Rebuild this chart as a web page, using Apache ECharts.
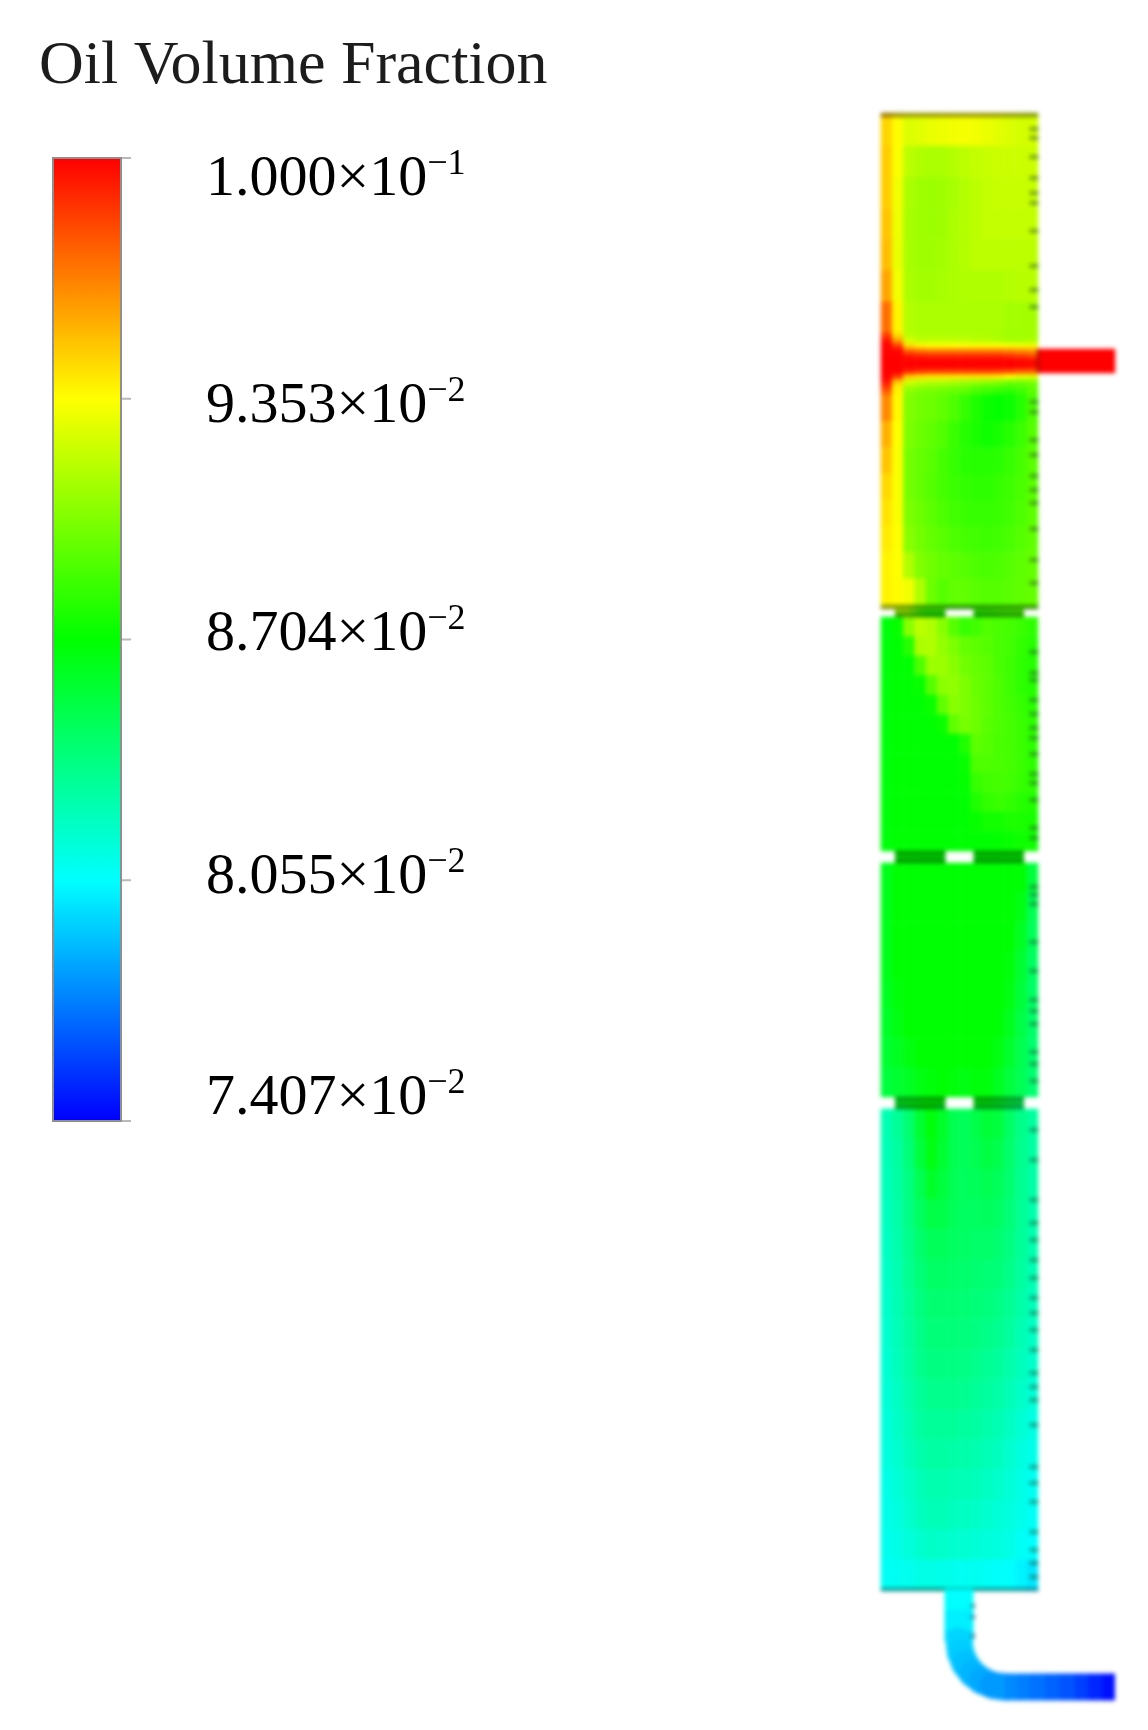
<!DOCTYPE html>
<html><head><meta charset="utf-8">
<style>
html,body{margin:0;padding:0;background:#fff}
#legend,#field{position:absolute;left:0;top:0;width:1148px;height:1730px}
#legend{filter:blur(0.6px)}
#field{filter:blur(2.2px)}
</style>
<script src="https://cdn.jsdelivr.net/npm/echarts@6/dist/echarts.min.js"></script>
</head><body><div id="legend"></div><div id="field"></div>
<script>
// Oil volume fraction, in units of 1e-4.
const legendTitle = 'Oil Volume Fraction';
const legendLabels = ['1.000×10','9.353×10','8.704×10','8.055×10','7.407×10'];
const legendExponents = ['−1','−2','−2','−2','−2'];
const scaleMin = 741, scaleMax = 1000;

const chamber1Upper = [
[946,936,926,928,930,931,932,933,932,930,928,926,924,924],
[948,934,918,915,914,914,916,918,920,921,922,922,922,922],
[948,932,914,911,910,911,913,916,918,920,921,921,921,921],
[950,931,913,911,910,911,914,916,918,920,920,920,920,920],
[952,930,913,911,911,912,914,916,918,918,918,918,918,918],
[958,932,914,912,912,913,914,915,915,915,915,916,917,917],
[972,938,916,914,914,914,914,914,914,914,914,912,912,912]];
const jetZone = [
[985,945,918,915,915,915,915,915,915,915,913,911,911,912],
[995,960,925,920,920,920,920,920,918,918,916,914,914,915],
[1000,985,945,938,935,935,935,935,935,935,935,933,932,932],
[1000,1000,975,970,968,968,968,968,968,968,968,966,964,962],
[1000,1000,995,992,990,990,990,990,990,990,990,988,985,982],
[1000,1000,1000,1000,1000,1000,1000,1000,1000,1000,1000,1000,999,998],
[1000,1000,1000,1000,1000,1000,1000,1000,1000,1000,1000,1000,999,998],
[1000,1000,990,985,983,983,983,983,983,983,982,980,976,975],
[1000,985,950,945,942,942,942,942,942,942,940,935,930,928],
[995,950,925,920,918,917,915,912,910,908,905,900,900,902],
[985,940,912,908,906,904,902,900,895,892,890,888,890,895],
[975,938,905,900,900,898,896,893,888,885,882,880,885,893]];
const chamber1Lower = [
[965,937,903,900,898,895,890,884,878,873,871,873,880,890],
[955,935,902,898,895,891,885,880,877,874,876,880,885,892],
[950,934,900,896,893,888,884,881,880,880,881,884,888,893],
[945,934,900,896,892,888,885,883,882,882,884,886,889,893],
[942,934,902,898,894,890,887,885,884,884,885,887,890,894],
[940,935,905,900,896,893,890,888,887,886,887,889,892,895],
[938,935,915,903,899,896,894,892,890,889,890,892,894,896],
[938,936,932,915,898,892,895,895,893,892,892,893,895,896]];
const chamber2 = [
[868,872,905,918,915,905,892,884,887,891,889,888,885,882],
[868,870,880,914,915,908,902,896,894,892,889,887,883,880],
[868,870,870,890,910,910,905,899,896,894,889,886,882,880],
[868,870,870,872,892,906,907,902,897,894,890,886,882,880],
[868,870,870,870,873,895,905,902,898,894,890,887,884,881],
[868,870,870,870,870,873,895,901,898,893,890,888,885,882],
[868,870,870,870,870,870,870,878,894,892,889,888,885,882],
[868,870,870,870,870,870,870,872,890,890,889,888,885,882],
[868,870,870,870,870,870,870,871,884,887,888,887,884,882],
[868,870,870,870,870,870,870,870,878,883,885,883,880,879],
[868,870,870,870,870,870,870,870,872,875,875,877,877,876],
[868,870,870,870,870,870,870,870,870,870,871,872,874,874]];
const chamber3 = [
[864,870,870,870,870,870,870,870,870,870,870,870,870,855],
[864,870,870,870,870,870,870,870,870,870,870,870,866,850],
[864,870,870,870,870,870,870,870,870,870,870,870,862,848],
[864,870,870,870,870,870,870,870,870,870,870,868,858,846],
[862,868,870,870,870,870,870,870,870,870,870,866,856,845],
[860,866,870,870,870,870,870,870,870,870,869,863,853,844],
[858,862,867,870,870,870,870,870,870,870,866,859,851,843],
[855,858,861,866,868,870,868,866,868,868,862,855,849,842]];
const chamber4 = [
[825,832,842,858,868,860,850,848,852,857,855,845,836,830],
[824,830,840,855,866,858,850,848,850,854,851,843,835,829],
[823,829,838,850,860,855,849,847,848,850,848,842,834,828],
[822,828,837,846,853,852,848,846,846,847,845,840,833,827],
[821,827,835,843,848,848,846,845,844,844,842,838,832,826],
[820,826,834,840,845,845,844,843,842,841,840,836,830,825],
[819,825,832,838,842,842,842,841,840,839,837,833,828,823],
[818,824,830,836,840,840,840,839,838,836,834,830,825,821],
[817,823,829,835,838,838,838,837,835,833,831,827,823,819],
[816,821,827,832,835,835,835,834,832,830,828,824,820,816],
[815,820,825,830,832,832,832,830,829,827,825,821,817,813],
[814,818,823,827,829,829,828,827,826,824,822,818,814,811],
[812,816,820,824,826,826,825,824,823,821,819,816,812,809],
[811,814,818,822,824,824,822,821,820,818,816,814,811,808],
[810,812,815,818,820,819,818,817,816,815,814,812,808,806],
[808,809,810,812,812,811,810,809,809,808,807,806,803,800]];
const inletRow = [[1000]];
const topEdge = [[948,940,935,935,935,935,935,935,935,935,933,930,928,926]];
const bottomEdge = [[808,809,810,812,812,811,810,809,809,808,807,806,803,800]];

// Baffles: null marks an open slot in the plate.
const _ = null;
const baffle1Top = [925,925,920,915,905,895,890,890,890,885,885,885,885,885,885,888,888,888,888,890,892,892];
const baffle1Mid = [_,_,915,915,905,890,885,885,885,_,_,_,_,885,885,885,888,888,890,890,_,_];
const baffle1Bot = [_,_,895,900,890,880,875,875,875,_,_,_,_,875,878,880,882,885,885,885,_,_];
const baffle2Top = [_,_,870,870,870,870,870,870,870,_,_,_,_,870,870,870,870,870,870,870,_,_];
const baffle2Mid = [_,_,870,870,870,870,870,870,870,_,_,_,_,870,870,870,870,870,870,870,_,_];
const baffle2Bot = [_,_,870,870,870,870,870,870,870,_,_,_,_,870,870,870,870,870,870,870,_,_];
const baffle3Top = [_,_,862,864,866,868,870,870,870,_,_,_,_,868,868,866,862,858,854,850,_,_];
const baffle3Mid = [_,_,862,864,866,868,870,870,870,_,_,_,_,868,868,866,862,858,854,850,_,_];
const baffle3Bot = [_,_,858,862,866,870,870,866,860,_,_,_,_,858,860,860,858,852,848,842,_,_];

// Outlet pipe stations (pipe-local position and value).
const pipeX = [14,14,14,14,15.6,20.2,27.5,37,48.1,60,72,85,100,115,130,143,157,170];
const pipeY = [0,21,41,52,63.9,75,84.5,91.8,96.4,98,98,98,98,98,98,98,98,98];
const pipeValue = [806,802,798,795,793,790,787,784,780,776,773,770,766,762,757,751,745,741];

// Mesh marks along the right wall (distance down the column, page units).
const wallMarkY = [129,138,157,178,193,203,231,266,290,307,402,412,440,455,476,490,503,529,560,583,
652,673,680,700,714,728,738,754,774,783,800,828,838,887,895,904,942,971,1000,1011,1024,1052,1064,1081,
1130,1160,1200,1223,1240,1260,1278,1298,1313,1330,1350,1373,1387,1400,1425,1467,1483,1502,1532,1550,1563,1577];
const pipeMarkY = [1606,1617,1636];

const ramp = ['#0000ff','#00ffff','#00ff00','#ffff00','#ff0000'];
const rampEdge = ['#000099','#009999','#009900','#999900','#990000'];
const rampMid = ['#0000c8','#00c8c8','#00c800','#c8c800','#c80000'];

// ---------- legend ----------
const labelCentres = [180,407,635,878,1099];
const legendChart = echarts.init(document.getElementById('legend'),null,{renderer:'canvas'});
legendChart.setOption({
  animation:false, backgroundColor:'#fff',
  title:{text:legendTitle,left:39,top:36,padding:0,textStyle:{fontFamily:'Liberation Serif',fontSize:62,fontWeight:'normal',color:'#1c1c1c'}},
  grid:{left:53,top:158,width:68,height:963},
  xAxis:{type:'value',show:false,min:0,max:1},
  yAxis:{type:'category',show:false,inverse:true,boundaryGap:false,data:legendLabels},
  visualMap:{type:'continuous',min:scaleMin,max:scaleMax,left:53,top:158,padding:0,itemWidth:68,itemHeight:963,
    text:null,showLabel:false,calculable:false,hoverLink:false,seriesIndex:[],inRange:{color:ramp},
    textStyle:{fontSize:0},borderWidth:0},
  graphic:[
    {type:'rect',z:100,shape:{x:53,y:158,width:68,height:963},style:{fill:'none',stroke:'#8f8f8f',lineWidth:2}},
    ...legendLabels.map((t,i)=>({type:'text',z:100,x:206,y:labelCentres[i],style:{
      text:'{b|'+t+'}{s|'+legendExponents[i]+'}',verticalAlign:'middle',align:'left',
      rich:{b:{fontFamily:'Liberation Serif',fontSize:58,color:'#1c1c1c',lineHeight:66},
            s:{fontFamily:'Liberation Serif',fontSize:36,color:'#1c1c1c',verticalAlign:'top',lineHeight:50}}}}))
  ],
  series:[{type:'scatter',silent:true,clip:false,symbol:'rect',symbolSize:[10,2],symbolOffset:[5,0],
    itemStyle:{color:'#a8a8a8'},data:legendLabels.map((t,i)=>[1,i])}]
});

// ---------- field ----------
const grids=[],xAxes=[],yAxes=[],series=[],mainIdx=[],edgeIdx=[],midIdx=[];
function heat(left,top,width,height,rows,group){
  const g=grids.length;
  grids.push({left,top,width,height});
  xAxes.push({gridIndex:g,type:'category',show:false,data:rows[0].map((v,i)=>i)});
  yAxes.push({gridIndex:g,type:'category',show:false,inverse:true,data:rows.map((v,i)=>i)});
  const data=[];
  rows.forEach((r,j)=>r.forEach((v,i)=>{ if(v!==null) data.push([i,j,v]); }));
  group.push(series.length);
  series.push({type:'heatmap',xAxisIndex:g,yAxisIndex:g,data,silent:true,progressive:0,emphasis:{disabled:true}});
}
const L=881,W=157;
heat(L,115,W,218,chamber1Upper,mainIdx);
heat(L,333,W,62,jetZone,mainIdx);
heat(L,395,W,210,chamber1Lower,mainIdx);
heat(L,617,W,234,chamber2,mainIdx);
heat(L,863,W,234,chamber3,mainIdx);
heat(L,1109,W,481,chamber4,mainIdx);
heat(1038,349,77,24,inletRow,mainIdx);
heat(L,113,W,4,topEdge,edgeIdx);
heat(L,1588,W,3,bottomEdge,edgeIdx);
[[605,baffle1Top,baffle1Mid,baffle1Bot],[851,baffle2Top,baffle2Mid,baffle2Bot],[1097,baffle3Top,baffle3Mid,baffle3Bot]].forEach(b=>{
  heat(L,b[0],W,4,[b[1]],edgeIdx);
  heat(L,b[0]+4,W,4,[b[2]],midIdx);
  heat(L,b[0]+8,W,4,[b[3]],edgeIdx);
});
// pipe
{
  const g=grids.length;
  grids.push({left:945,top:1589,width:170,height:111});
  xAxes.push({gridIndex:g,type:'value',show:false,min:0,max:170});
  yAxes.push({gridIndex:g,type:'value',show:false,inverse:true,min:0,max:111});
  mainIdx.push(series.length);
  const n=pipeX.length;
  series.push({type:'custom',xAxisIndex:g,yAxisIndex:g,silent:true,clip:false,encode:{x:0,y:1},
    data:pipeX.map((x,i)=>[x,pipeY[i],pipeValue[i]]),
    renderItem(p,api){
      const i=p.dataIndex; if(i>=n-1) return null;
      const a=api.coord([pipeX[i],pipeY[i]]), b=api.coord([pipeX[i+1],pipeY[i+1]]);
      const straight = pipeX[i]===pipeX[i+1] || pipeY[i]===pipeY[i+1];
      return {type:'polyline',shape:{points:[a,b]},
        style:{fill:null,stroke:api.visual('color'),lineWidth:pipeY[i]<52?29:27,lineCap:straight?'butt':'round'}};
    }});
}
// wall marks
{
  const g=grids.length;
  grids.push({left:L,top:115,width:W,height:1525});
  xAxes.push({gridIndex:g,type:'value',show:false,min:0,max:157});
  yAxes.push({gridIndex:g,type:'value',show:false,inverse:true,min:115,max:1640});
  series.push({type:'scatter',xAxisIndex:g,yAxisIndex:g,silent:true,symbol:'rect',symbolSize:[9,4],
    itemStyle:{color:'rgba(30,70,40,0.6)'},data:wallMarkY.map(y=>[153,y])});
  series.push({type:'scatter',xAxisIndex:g,yAxisIndex:g,silent:true,symbol:'rect',symbolSize:[5,4],
    itemStyle:{color:'rgba(20,60,90,0.6)'},data:pipeMarkY.map(y=>[92,y])});
  series.push({type:'scatter',xAxisIndex:g,yAxisIndex:g,silent:true,symbol:'rect',symbolSize:[3,24],
    itemStyle:{color:'rgba(80,20,20,0.5)'},data:[[157,361]]});
}
const vm=(idx,color)=>({type:'continuous',show:false,min:scaleMin,max:scaleMax,dimension:2,seriesIndex:idx,inRange:{color}});
const fieldChart = echarts.init(document.getElementById('field'),null,{renderer:'canvas'});
fieldChart.setOption({animation:false,grid:grids,xAxis:xAxes,yAxis:yAxes,series,
  visualMap:[vm(mainIdx,ramp),vm(edgeIdx,rampEdge),vm(midIdx,rampMid)]});
</script></body></html>
